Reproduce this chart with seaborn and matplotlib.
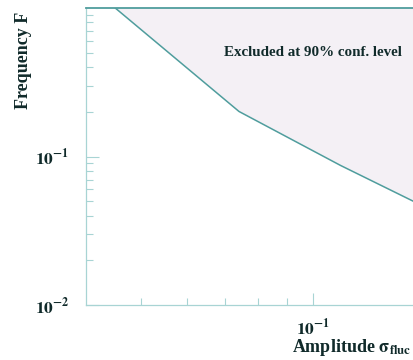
import numpy as np
import pandas as pd
import matplotlib
matplotlib.use("Agg")
import matplotlib.pyplot as plt
import seaborn as sns

# exclusion contour
amplitude = [0.045, 0.0741, 0.1116, 0.15]
frequency = [1.0, 0.201, 0.087, 0.0497]

x_ticks = [0.1]
x_tick_labels = [r"$\mathbf{10^{-1}}$"]
y_ticks = [0.01, 0.1]
y_tick_labels = [r"$\mathbf{10^{-2}}$", r"$\mathbf{10^{-1}}$"]

df = pd.DataFrame({"amp": amplitude, "freq": frequency})

sns.set_style("ticks")
plt.rcParams["font.family"] = ["Liberation Serif", "DejaVu Serif"]
plt.rcParams["mathtext.fontset"] = "stix"

text_col = "#102a2a"
line_col = "#4f9d9d"
spine_col = "#a8d4d4"
fill_col = "#f4f0f5"

fig = plt.figure(figsize=(4.14, 3.6), dpi=100)
ax = fig.add_axes([86 / 414, 1 - 305 / 360, 1 - 86 / 414, (305 - 8) / 360])

ax.fill_between(df["amp"], df["freq"], 1.0, color=fill_col, lw=0, zorder=1)
sns.lineplot(data=df, x="amp", y="freq", ax=ax, color=line_col, lw=1.1, zorder=3)

ax.set_xscale("log")
ax.set_yscale("log")
ax.set_xlim(0.04, 0.15)
ax.set_ylim(0.01, 1.0)

ax.set_xticks(x_ticks)
ax.set_xticklabels(x_tick_labels, fontsize=12.5, color=text_col)
ax.set_yticks(y_ticks)
ax.set_yticklabels(y_tick_labels, fontsize=12.5, color=text_col)
ax.set_xticks([0.05, 0.06, 0.07, 0.08, 0.09], minor=True)
ax.set_xticklabels([], minor=True)
minor_y = [k * 0.01 for k in range(2, 10)] + [k * 0.1 for k in range(2, 10)]
ax.set_yticks(minor_y, minor=True)
ax.set_yticklabels([], minor=True)

ax.tick_params(which="major", direction="in", length=9, width=0.8, color=spine_col, pad=12)
ax.tick_params(which="minor", direction="in", length=5, width=0.8, color=spine_col)
ax.tick_params(axis="x", which="major", pad=9)

for side in ["left", "bottom"]:
    ax.spines[side].set_color(spine_col)
    ax.spines[side].set_linewidth(0.9)
ax.spines["top"].set_color(line_col)
ax.spines["top"].set_linewidth(1.3)
ax.spines["right"].set_visible(False)

ax.set_xlabel("")
ax.set_ylabel("")

fig.text(313 / 414, 1 - 52 / 360, "Excluded at 90% conf. level", ha="center", va="center",
         fontsize=10.8, fontweight="bold", color=text_col)
fig.text(24 / 414, 1 - 60 / 360, "Frequency F", rotation=90, ha="center", va="center",
         fontsize=13, fontweight="bold", color=text_col)
fig.text(292 / 414, 1 - 348 / 360, r"Amplitude $\mathbf{\sigma_{fluc}}$", ha="left", va="center",
         fontsize=13, fontweight="bold", color=text_col)

fig.savefig("out.png", dpi=100)
